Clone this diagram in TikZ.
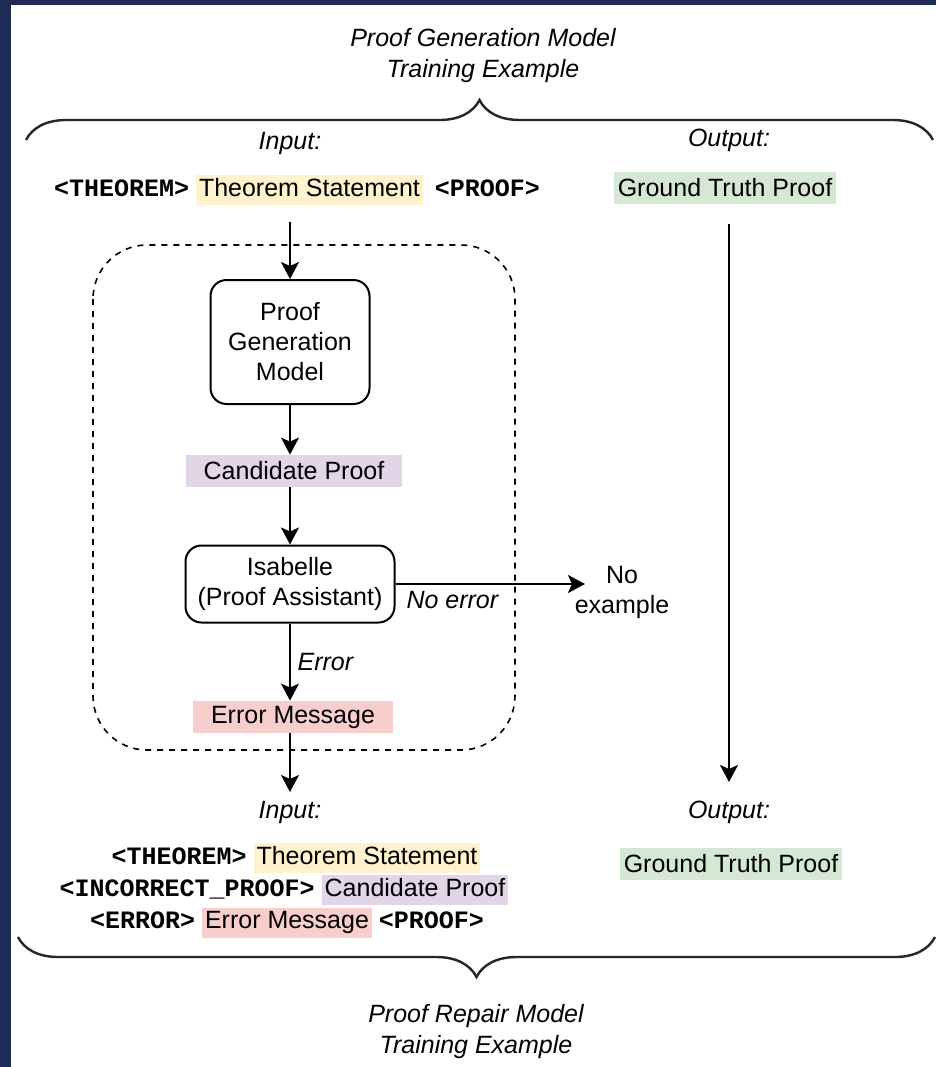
\documentclass[tikz,border=0pt]{standalone}
\usepackage{fontspec}
\setmainfont{Liberation Sans}
\setmonofont{Liberation Mono}
\usepackage{tikz}
\usetikzlibrary{arrows.meta,shapes,positioning,calc,decorations.pathreplacing}

\definecolor{navy}{HTML}{1F2A55}
\definecolor{thmyellow}{HTML}{FFF2CC}
\definecolor{candpurple}{HTML}{E1D5E7}
\definecolor{errred}{HTML}{F8CECC}
\definecolor{gtgreen}{HTML}{D5E8D4}
\newcommand{\tg}[1]{\texttt{\bfseries #1}}
\newcommand{\hl}[2]{{\setlength{\fboxsep}{1.5pt}\colorbox{#1}{\rule[-3pt]{0pt}{11pt}#2}}}

\tikzset{
	box/.style={draw, rounded corners=8pt, line width=1pt, align=center},
	hlbox/.style={inner ysep=2pt, minimum height=16pt},
	lbl/.style={font=\fontsize{12.5}{15}\selectfont\itshape},
	brc/.style={decorate, decoration={brace, amplitude=20pt}, line width=1.2pt, draw=black!85},
	arr/.style={-{Stealth[length=8.5pt, width=9pt, inset=2pt]}, line width=1pt}
}

\begin{document}
\begin{tikzpicture}[x=0.5pt, y=-0.5pt, font=\fontsize{12.5}{15}\selectfont]
	\fill[navy] (0,0) rectangle (936,1067);
	\fill[white] (11,5) rectangle (936,1067);

	% top: generation example
	\node[lbl, align=center, font=\fontsize{12.5}{15.5}\selectfont\itshape] (gentitle) at (483,56) {Proof Generation Model\\Training Example};
	\draw[brc] (26,140) -- (933,140);
	\node[lbl] (tinlbl) at (290,143) {Input:};
	\node[lbl] (toutlbl) at (729,140) {Output:};
	\node (tin) at (297,190) {\tg{<THEOREM>} \hl{thmyellow}{Theorem Statement}\hspace{6pt}\tg{<PROOF>}};
	\node[hlbox, fill=gtgreen, inner xsep=2pt] (tgt) at (725,188) {Ground Truth Proof};

	% pipeline
	\draw[dashed, dash pattern=on 3pt off 3pt, line width=0.8pt, rounded corners=27pt] (93,245) rectangle (515,750);
	\node[box, minimum width=79.5pt, minimum height=62pt] (gen) at (290,342) {Proof\\Generation\\Model};
	\node[hlbox, fill=candpurple, inner xsep=9pt] (cand) at (294,471) {Candidate Proof};
	\node[box, minimum width=104.5pt, minimum height=38.5pt] (isa) at (290,584) {Isabelle\\(Proof Assistant)};
	\node[hlbox, fill=errred, inner xsep=9pt] (errmsg) at (293,717) {Error Message};
	\coordinate (noend) at (585,584);
	\node[align=center] (noex) at (622,592) {No\\example};

	\draw[arr, shorten <=5pt] (gen |- tin.south) -- (gen);
	\draw[arr] (gen) -- (gen |- cand.north);
	\draw[arr] (isa |- cand.south) -- (isa);
	\draw[arr] (isa.east) -- (noend) node[lbl, pos=0.3, below]{No error};
	\draw[arr] (isa) -- (isa |- errmsg.north) node[lbl, midway, right]{Error};
	\draw[arr, shorten >=4pt] (isa |- errmsg.south) -- (isa |- 0,800);
	\draw[arr, shorten <=10pt, shorten >=9pt] (tgt.south -| toutlbl) -- (toutlbl |- 0,800);

	% bottom: repair example
	\node[lbl] (rinlbl) at (290,812) {Input:};
	\node[lbl] (routlbl) at (729,812) {Output:};
	\node (rin1) at (296,858) {\tg{<THEOREM>} \hl{thmyellow}{Theorem Statement}};
	\node (rin2) at (284,890) {\tg{<INCORRECT\_PROOF>} \hl{candpurple}{Candidate Proof}};
	\node (rin3) at (287,923) {\tg{<ERROR>} \hl{errred}{Error Message} \tg{<PROOF>}};
	\node[hlbox, fill=gtgreen, inner xsep=2pt] (rgt) at (731,864) {Ground Truth Proof};
	\draw[brc] (935,937) -- (18,937);
	\node[lbl, align=center, font=\fontsize{12.5}{15.5}\selectfont\itshape] (reptitle) at (476,1032) {Proof Repair Model\\Training Example};
\end{tikzpicture}
\end{document}
